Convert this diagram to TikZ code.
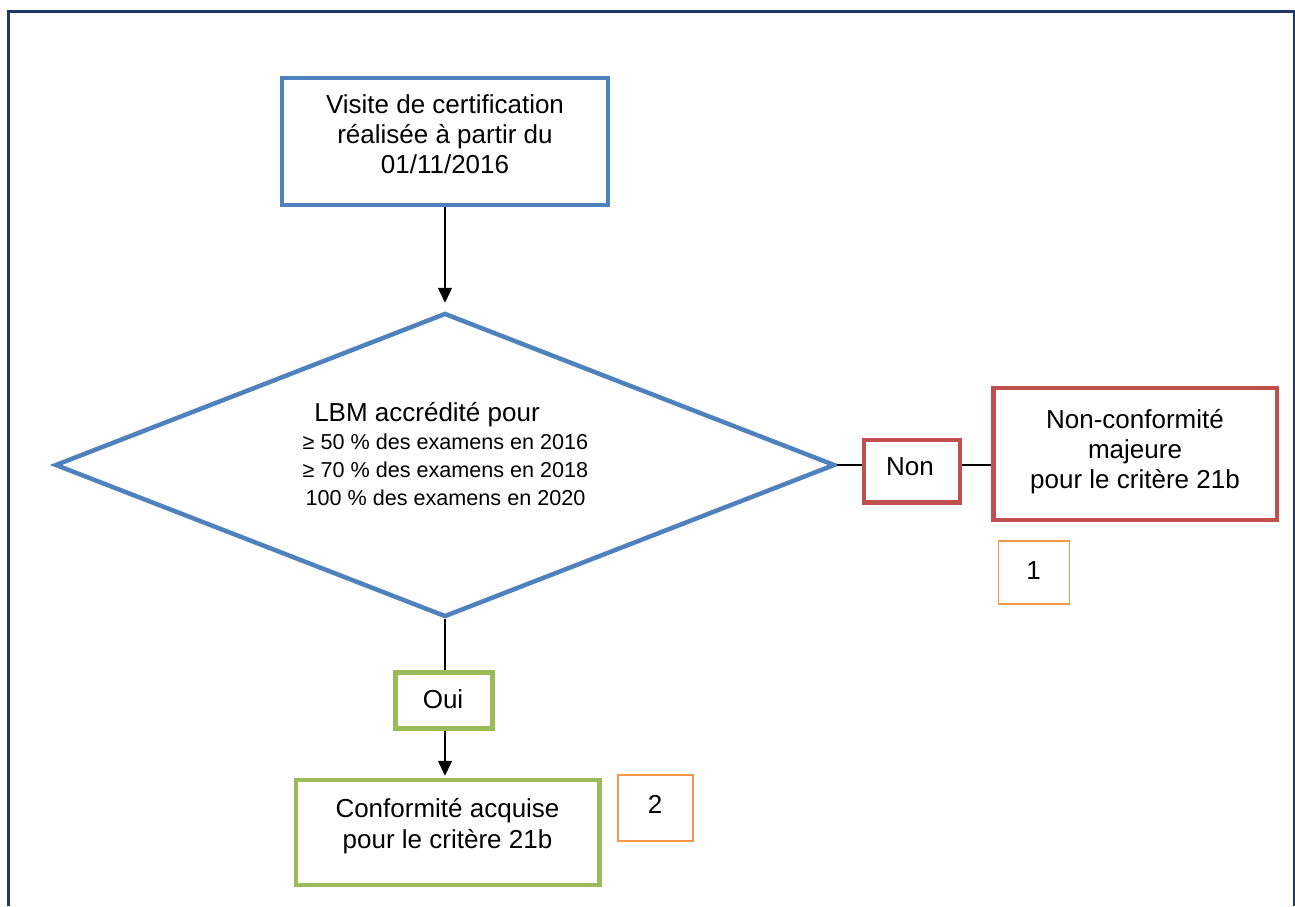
\documentclass[tikz,border=0pt]{standalone}
\usepackage{fontspec}
\setmainfont{Liberation Sans}
\usetikzlibrary{arrows.meta,shapes.geometric}
\definecolor{frameblue}{HTML}{1F3864}
\definecolor{boxblue}{HTML}{4F81BD}
\definecolor{boxred}{HTML}{C0504D}
\definecolor{boxgreen}{HTML}{9BBB59}
\definecolor{boxorange}{HTML}{F79646}
\begin{document}
\begin{tikzpicture}[x=1pt,y=-1pt,
  bluebox/.style={draw=boxblue,line width=4.5pt,inner sep=0pt,rectangle},
  redbox/.style={draw=boxred,line width=4.5pt,inner sep=0pt,rectangle},
  greenbox/.style={draw=boxgreen,line width=4.5pt,inner sep=0pt,rectangle},
  numbox/.style={draw=boxorange,line width=1.8pt,inner sep=0pt,rectangle},
  conn/.style={line width=1.5pt,black},
  arr/.style={conn,-{Triangle[length=15pt,width=14pt]}},
  txt/.style={inner sep=0pt,align=center,font=\fontsize{26}{30}\selectfont}
]
\useasboundingbox (0,0) rectangle (1295,906);
% frame
\draw[frameblue,line width=2.5pt] (8.5,906) -- (8.5,11.5) -- (1294.5,11.5) -- (1294.5,906);

% shapes
\node[bluebox,minimum width=326pt,minimum height=127pt] (top) at (445,141.5) {};
\node[draw=boxblue,line width=4.5pt,shape=diamond,inner sep=0pt,
      minimum width=780pt,minimum height=304pt] (dia) at (445,465) {};
\node[redbox,minimum width=96pt,minimum height=62.5pt] (non) at (912,471) {};
\node[redbox,minimum width=283.5pt,minimum height=132pt] (red) at (1135.25,454) {};
\node[numbox,minimum width=71pt,minimum height=63.6pt] (n1) at (1034,572.5) {};
\node[greenbox,minimum width=96.7pt,minimum height=55.7pt] (oui) at (444,700.4) {};
\node[greenbox,minimum width=303.5pt,minimum height=105pt] (conf) at (447.75,832.5) {};
\node[numbox,minimum width=75.6pt,minimum height=65.7pt] (n2) at (655.5,808) {};

% texts
\node[txt] (ttop) at (445,137.5) {\strut Visite de certification\\réalisée à partir du\\01/11/2016\strut};
\node[txt,anchor=base] (tdia1) at (427,421) {LBM accrédité pour};
\node[inner sep=0pt,align=center,font=\fontsize{21.6}{28}\selectfont] (tdia2) at (445.5,472)
  {\strut ≥ 50 \% des examens en 2016\\≥ 70 \% des examens en 2018\\100 \% des examens en 2020\strut};
\node[txt] (tred) at (1135,452) {\strut Non-conformité\\majeure\\pour le critère 21b\strut};
\node[txt,font=\fontsize{26}{31}\selectfont] (tconf) at (447.5,827) {\strut Conformité acquise\\pour le critère 21b\strut};
\node[txt,anchor=base] (tnon) at (910,475) {Non};
\node[txt,anchor=base] (toui) at (443,708.3) {Oui};
\node[txt,anchor=base] (t1) at (1033.5,579.3) {1};
\node[txt,anchor=base] (t2) at (655,813.3) {2};

% connectors
\draw[arr] (top.south) -- ([yshift=8pt]dia.north);
\draw[conn] (dia.east) -- (dia.east -| non.west);
\draw[conn] (dia.east -| non.east) -- (dia.east -| red.west);
\draw[conn] (dia.south) -- (dia.south |- oui.north);
\draw[arr,shorten >=2pt] (dia.south |- oui.south) -- (dia.south |- conf.north);
\end{tikzpicture}
\end{document}
